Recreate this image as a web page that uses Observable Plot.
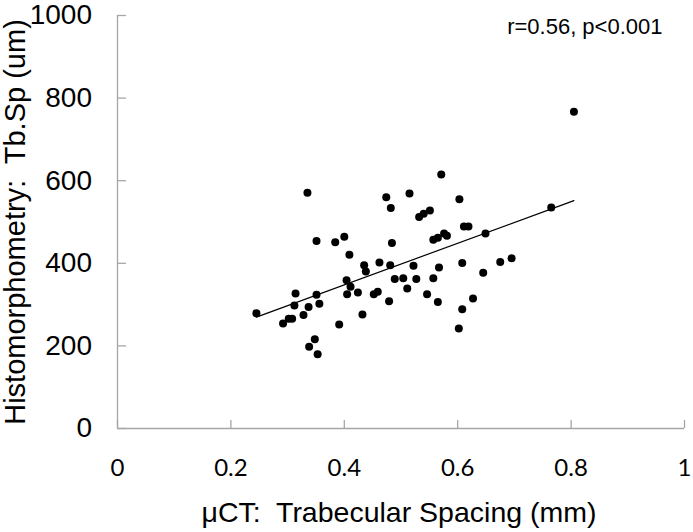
<!DOCTYPE html>
<html>
<head>
<meta charset="utf-8">
<script src="https://cdn.jsdelivr.net/npm/d3@7"></script>
<script src="https://cdn.jsdelivr.net/npm/@observablehq/plot@0.6"></script>
<style>
  html, body { margin: 0; padding: 0; background: #fff; }
  svg text { white-space: pre; }
</style>
</head>
<body>
<div id="chart"></div>
<script>
// µCT trabecular spacing (mm)
const microCT = [
  0.245, 0.292, 0.302, 0.308, 0.312, 0.314, 0.328, 0.335, 0.337, 0.338,
  0.348, 0.351, 0.351, 0.353, 0.356, 0.384, 0.391, 0.400, 0.404, 0.405,
  0.409, 0.411, 0.424, 0.432, 0.435, 0.438, 0.452, 0.459, 0.462, 0.474,
  0.479, 0.481, 0.482, 0.484, 0.489, 0.504, 0.511, 0.515, 0.522, 0.527,
  0.532, 0.540, 0.546, 0.551, 0.557, 0.557, 0.565, 0.565, 0.567, 0.571,
  0.576, 0.581, 0.602, 0.603, 0.608, 0.608, 0.611, 0.619, 0.627, 0.645,
  0.649, 0.675, 0.695, 0.765, 0.805
];
// Histomorphometry Tb.Sp (um)
const histo = [
  279, 254, 266, 266, 298, 327, 275, 571, 294, 198,
  216, 324, 454, 180, 302, 451, 252, 464, 359, 325,
  421, 343, 329, 276, 395, 380, 325, 331, 402, 560,
  308, 395, 534, 449, 362, 364, 339, 569, 394, 362,
  512, 520, 325, 528, 457, 364, 462, 306, 390, 615,
  472, 467, 242, 555, 401, 289, 489, 489, 315, 377,
  472, 403, 412, 535, 767
];
const xTicks = [0, 0.2, 0.4, 0.6, 0.8, 1];
const yTicks = [0, 200, 400, 600, 800, 1000];
const xLabel = "\u03bcCT:  Trabecular Spacing (mm)";
const yLabel = "Histomorphometry:  Tb.Sp (um)";
const annotation = ["r=0.56, p<0.001"];

const points = microCT.map((x, i) => ({x, y: histo[i]}));

const axisGray = "#a6a6a6";
const arial = "'Liberation Sans', Arial, sans-serif";

const chart = Plot.plot({
  width: 693,
  height: 532,
  marginLeft: 117,
  marginRight: 9,
  marginTop: 15,
  marginBottom: 104,
  style: {background: "#fff", color: "black"},
  x: {domain: [0, 1]},
  y: {domain: [0, 1000]},
  marks: [
    Plot.ruleX([0], {stroke: axisGray, strokeWidth: 1.3}),
    Plot.ruleY([0], {stroke: axisGray, strokeWidth: 1.3}),
    Plot.axisX(xTicks, {
      tickSize: -8, tickPadding: 38, stroke: axisGray, strokeWidth: 1.3,
      fill: "black", fontSize: 24, fontFamily: "Lato, 'Open Sans', sans-serif",
      tickFormat: d => String(d), label: null
    }),
    Plot.axisY(yTicks, {
      tickSize: -9, tickPadding: 34.5, stroke: axisGray, strokeWidth: 1.3,
      fill: "black", fontSize: 28, fontFamily: arial,
      tickFormat: d => String(d), label: null
    }),
    Plot.text([yLabel], {
      frameAnchor: "left", text: d => d, rotate: -90, dx: -102,
      textAnchor: "middle", lineAnchor: "middle",
      fontSize: 29, fontFamily: arial, fill: "black"
    }),
    Plot.text([xLabel], {
      frameAnchor: "bottom", text: d => d, dy: 84, dx: -2,
      textAnchor: "middle", lineAnchor: "middle",
      fontSize: 28.5, fontFamily: arial, fill: "black"
    }),
    Plot.text(annotation, {
      frameAnchor: "top-right", text: d => d, dx: -22, dy: 11,
      textAnchor: "end", lineAnchor: "middle",
      fontSize: 22, fontFamily: arial, fill: "black"
    }),
    Plot.linearRegressionY(points, {x: "x", y: "y", stroke: "black", strokeWidth: 1.2, ci: 0}),
    Plot.dot(points, {x: "x", y: "y", r: 4, fill: "black", stroke: "none"})
  ]
});
document.getElementById("chart").appendChild(chart);
</script>
</body>
</html>
